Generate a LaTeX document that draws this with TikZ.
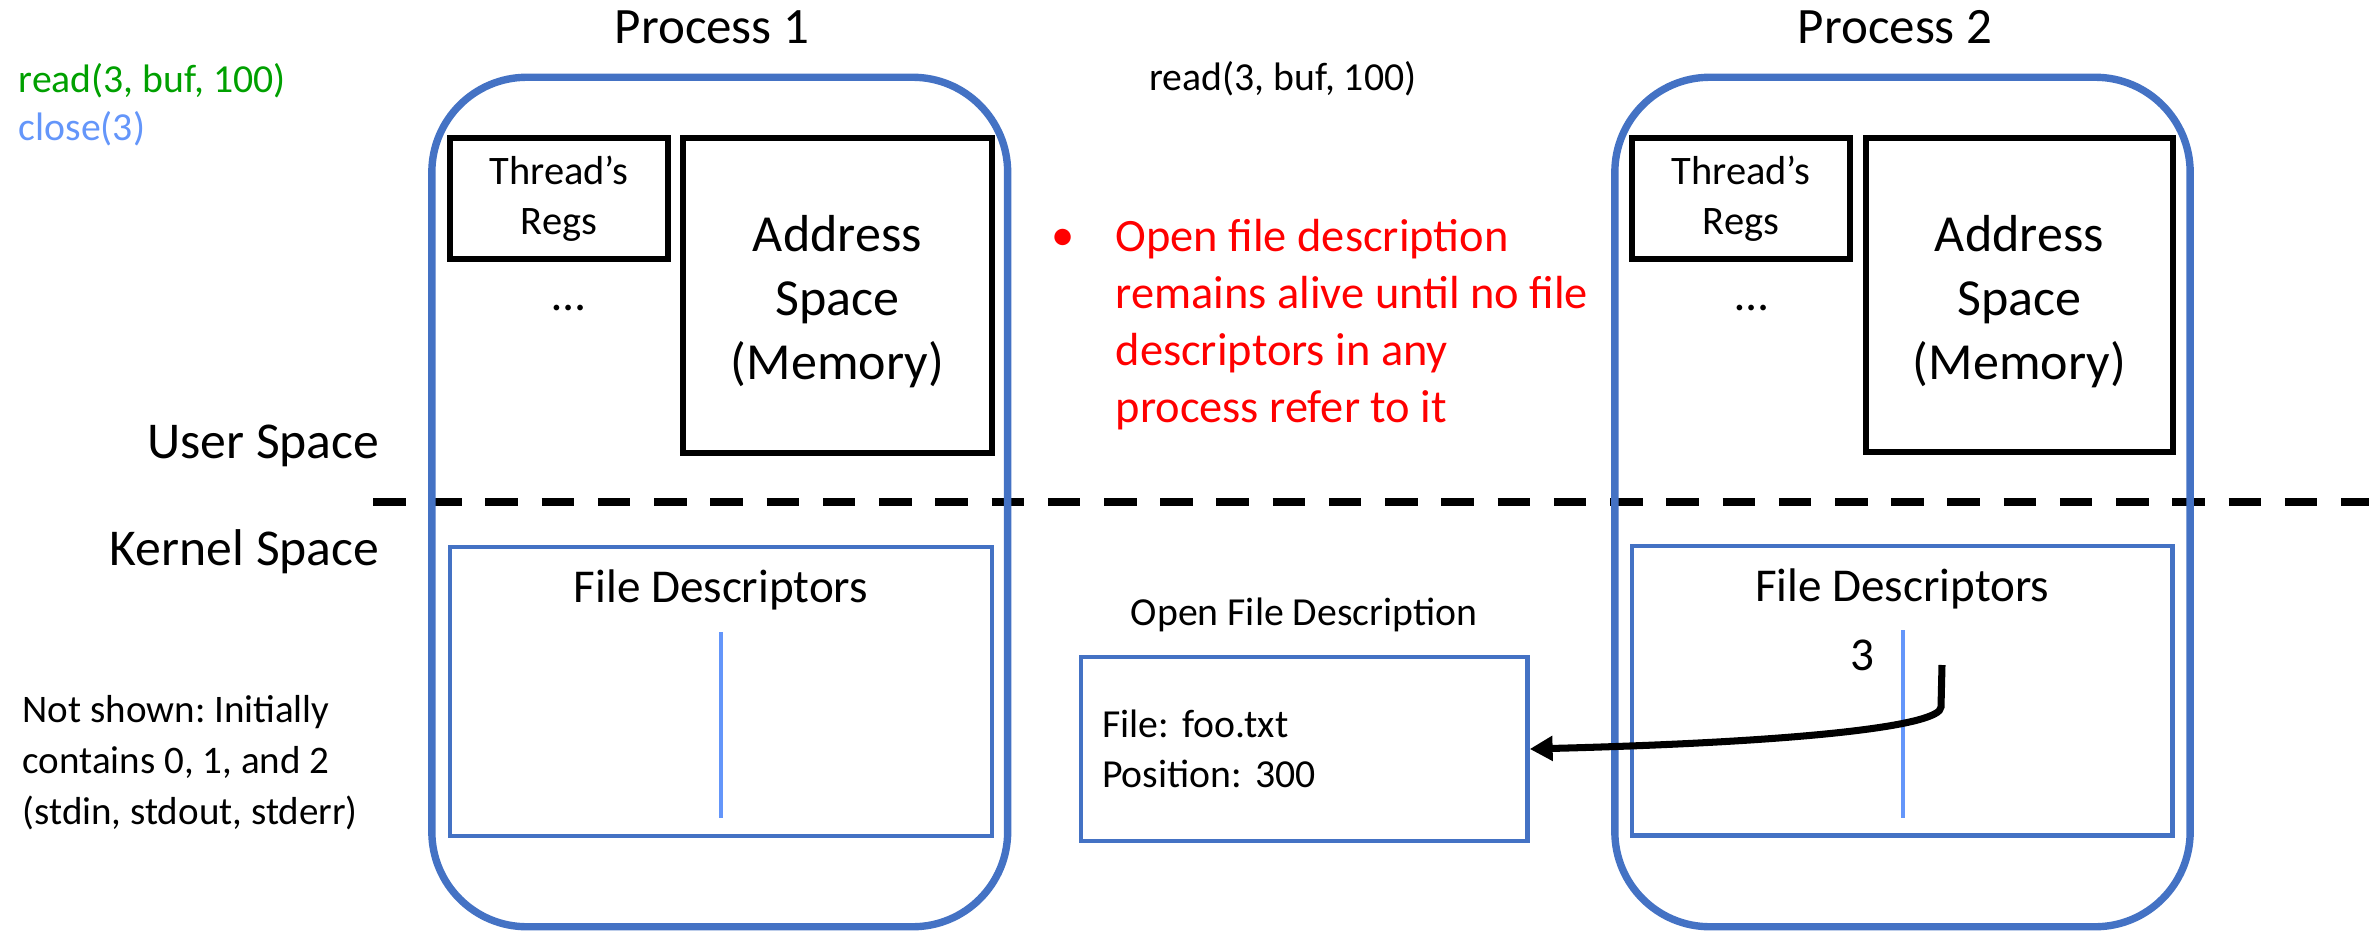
\documentclass[tikz,border=0pt]{standalone}
\usepackage{fontspec}
\setmainfont{Carlito}
\usetikzlibrary{arrows.meta}
\definecolor{pblue}{RGB}{68,114,196}
\definecolor{lblue}{RGB}{100,150,250}
\definecolor{cgreen}{RGB}{0,160,0}
\definecolor{cred}{RGB}{255,0,0}
\newcommand\fsProc{\fontsize{14.5}{17}\selectfont}
\newcommand\fsAddr{\fontsize{14.8}{18.2}\selectfont}
\newcommand\fsThr{\fontsize{11.5}{14.2}\selectfont}
\newcommand\fsFD{\fontsize{13.4}{16}\selectfont}
\newcommand\fsCode{\fontsize{11.3}{13.7}\selectfont}
\newcommand\fsRed{\fontsize{13.2}{16.2}\selectfont}
\newcommand\fsSpace{\fontsize{14.7}{17}\selectfont}
\newcommand\fsNote{\fontsize{11.1}{14.5}\selectfont}
\newcommand\fsOFD{\fontsize{11.3}{14.2}\selectfont}
\frenchspacing
\begin{document}
\frenchspacing
\begin{tikzpicture}[x=0.01cm,y=-0.01cm,
  procbox/.style={draw=pblue, line width=2.1pt, rounded corners=0.95cm, inner sep=0pt},
  blkbox/.style={draw=black, line width=1.7pt, align=center, inner sep=0pt},
  fdbox/.style={draw=pblue, line width=1.3pt, inner sep=0pt},
  fdline/.style={draw=lblue, line width=1.1pt},
  divider/.style={line width=2.2pt, dash pattern=on 9.25pt off 6.74pt},
  ptr/.style={line width=2pt, -{Triangle[length=6.5pt,width=6.8pt]}},
  txt/.style={inner sep=0pt}
]
\useasboundingbox (0,0) rectangle (2369,930);

% divider between user and kernel space
\coordinate (dashL) at (373,502);
\coordinate (dashR) at (2369,502);
\draw[divider] (dashL) -- (dashR);

% process boxes
\node[procbox, minimum width=5.755cm, minimum height=8.49cm] (p1) at (719.75,502) {};
\node[procbox, minimum width=5.75cm, minimum height=8.49cm] (p2) at (1902.5,502) {};

\node[txt, font=\fsProc, anchor=base] (t1) at (712,43) {Process 1};
\node[txt, font=\fsProc, anchor=base] (t2) at (1895,43) {Process 2};

% user space contents
\node[blkbox, minimum width=2.18cm, minimum height=1.207cm, font=\fsThr] (tr1) at (559,198.7) {Thread’s\\Regs};
\node[blkbox, minimum width=3.087cm, minimum height=3.145cm, font=\fsAddr] (as1) at (837.4,295.5) {\rule{0pt}{0.49cm}Address\\Space\\(Memory)};
\node[txt, font=\fsFD, anchor=base] (dots1) at (569,310) {…};

\node[blkbox, minimum width=2.18cm, minimum height=1.207cm, font=\fsThr] (tr2) at (1741,198.5) {Thread’s\\Regs};
\node[blkbox, minimum width=3.07cm, minimum height=3.14cm, font=\fsAddr] (as2) at (2019.3,295) {\rule{0pt}{0.49cm}Address\\Space\\(Memory)};
\node[txt, font=\fsFD, anchor=base] (dots2) at (1752,310) {…};

% left labels
\node[txt, font=\fsCode, text=cgreen, anchor=base west] (rd) at (18,92) {read(3, buf, 100)};
\node[txt, font=\fsCode, text=lblue, anchor=base west] (cl) at (18,140) {close(3)};
\node[txt, font=\fsCode, anchor=base] (rd2) at (1283,90) {read(3, buf, 100)};

\node[txt, font=\fsSpace, anchor=base east] (us) at (380,458) {User Space};
\node[txt, font=\fsSpace, anchor=base east] (ks) at (380,565) {Kernel Space};

\node[txt, font=\fsNote, align=left, anchor=west] (ns) at (22,763) {Not shown: Initially\\contains 0, 1, and 2\\(stdin, stdout, stderr)};

% red note
\node[txt, font=\fsRed, text=cred, anchor=base] (bul) at (1063,250) {•};
\node[txt, font=\fsRed, text=cred, align=left, anchor=west] (note) at (1115,325) {Open file description\\remains alive until no file\\descriptors in any\\process refer to it};

% file descriptor tables
\node[fdbox, minimum width=5.417cm, minimum height=2.89cm] (fd1) at (720.9,691.5) {};
\node[txt, font=\fsFD, anchor=base] (fdt1) at (720.9,602) {File Descriptors};
\coordinate (v1a) at (721,632);
\coordinate (v1b) at (721,818);
\draw[fdline] (v1a) -- (v1b);

\node[fdbox, minimum width=5.405cm, minimum height=2.895cm] (fd2) at (1902.2,690.8) {};
\node[txt, font=\fsFD, anchor=base] (fdt2) at (1902.2,601) {File Descriptors};
\coordinate (v2a) at (1903,630);
\coordinate (v2b) at (1903,818);
\draw[fdline] (v2a) -- (v2b);
\node[txt, font=\fsFD, anchor=base] (n3) at (1862,670) {3};

% open file description
\node[txt, font=\fsOFD, anchor=base] (ofdt) at (1304,625) {Open File Description};
\node[fdbox, minimum width=4.463cm, minimum height=1.838cm, text width=4.04cm, align=left, inner xsep=0.21cm, font=\fsOFD] (ofd) at (1304.2,749) {File: foo.txt\\Position: 300};

% pointer from fd 3 to the open file description
\coordinate (a3) at (1942,665);
\draw[ptr] (a3) -- ++(-1,42) .. controls +(0,19) and +(272.7,-7) .. (ofd.east);
\end{tikzpicture}
\end{document}
